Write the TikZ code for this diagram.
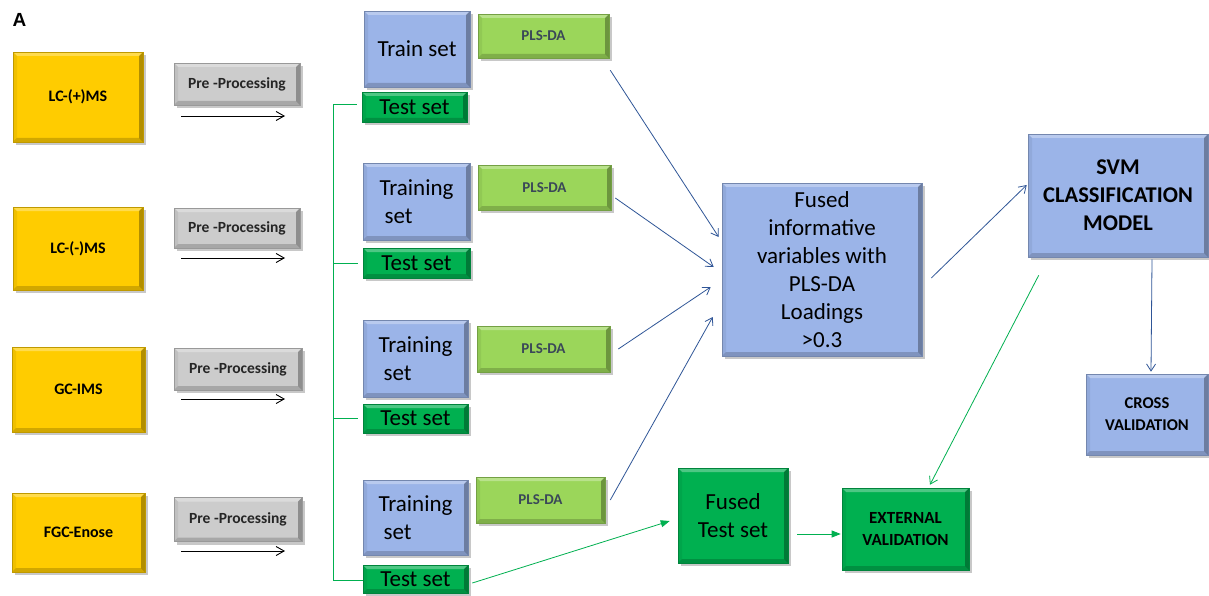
\documentclass[tikz,border=0pt]{standalone}
\usepackage{fontspec}
\setmainfont{Carlito}
\newfontfamily\labelfont{Liberation Sans}
\usetikzlibrary{shadows,arrows.meta,calc}
\definecolor{cYellow}{HTML}{FFCC00}
\definecolor{cGray}{HTML}{CCCCCC}
\definecolor{cBlue}{HTML}{9BB4E8}
\definecolor{cGreen}{HTML}{00B050}
\definecolor{cLight}{HTML}{9BD65A}
\definecolor{cSlate}{HTML}{3A4858}
\definecolor{cLine}{HTML}{2F5597}
\definecolor{cGline}{HTML}{00B050}
\tikzset{
  bevel/.style={path picture={
    \fill[white,opacity=0.3] (path picture bounding box.north west) -- (path picture bounding box.north east) -- ([xshift=-4pt,yshift=-4pt]path picture bounding box.north east) -- ([xshift=4pt,yshift=-4pt]path picture bounding box.north west) -- cycle;
    \fill[black,opacity=0.3] (path picture bounding box.north east) -- (path picture bounding box.south east) -- ([xshift=-4pt,yshift=4pt]path picture bounding box.south east) -- ([xshift=-4pt,yshift=-4pt]path picture bounding box.north east) -- cycle;
    \fill[black,opacity=0.18] (path picture bounding box.south west) -- (path picture bounding box.south east) -- ([xshift=-4pt,yshift=4pt]path picture bounding box.south east) -- ([xshift=4pt,yshift=4pt]path picture bounding box.south west) -- cycle;
    \fill[black,opacity=0.06] (path picture bounding box.north west) -- (path picture bounding box.south west) -- ([xshift=4pt,yshift=4pt]path picture bounding box.south west) -- ([xshift=4pt,yshift=-4pt]path picture bounding box.north west) -- cycle;
  }},
  basebox/.style={rectangle, line width=0.6pt, inner sep=2pt, align=center,
    drop shadow={shadow xshift=3pt,shadow yshift=-3pt,opacity=0.3,fill=black!70}, bevel},
  ybox/.style={basebox, fill=cYellow, draw=cYellow!75!black, font=\bfseries\fontsize{16}{19}\selectfont},
  gbox/.style={basebox, fill=cGray, draw=cGray!75!black, text=black!85, font=\bfseries\fontsize{15.5}{18}\selectfont},
  bbox/.style={basebox, fill=cBlue, draw=cBlue!75!black, font=\fontsize{23}{28}\selectfont},
  bbold/.style={basebox, fill=cBlue, draw=cBlue!75!black, font=\bfseries\fontsize{22.5}{28}\selectfont},
  bsmall/.style={basebox, fill=cBlue, draw=cBlue!75!black, font=\bfseries\fontsize{16.5}{22}\selectfont},
  tbox/.style={basebox, fill=cGreen, draw=cGreen!75!black, font=\fontsize{23}{28}\selectfont},
  tsmall/.style={basebox, fill=cGreen, draw=cGreen!75!black, font=\bfseries\fontsize{17}{22}\selectfont},
  lbox/.style={basebox, fill=cLight, draw=cLight!75!black, text=cSlate, font=\bfseries\fontsize{15}{18}\selectfont},
  blarrow/.style={draw=cLine, line width=0.8pt, -{Straight Barb[length=7pt,width=9pt]}},
  grarrow/.style={draw=cGline, line width=0.8pt, -{Straight Barb[length=7pt,width=9pt]}},
  grfill/.style={draw=cGline, line width=0.8pt, -{Triangle[length=9pt,width=7pt]}},
  kparrow/.style={draw=black, line width=0.9pt, -{Straight Barb[length=8pt,width=9pt]}},
  gline/.style={draw=cGline, line width=0.9pt},
}
\begin{document}
\begin{tikzpicture}[x=1pt,y=-1pt]
\useasboundingbox[fill=white] (0,0) rectangle (1209,596);

\node[font=\labelfont\bfseries\fontsize{19}{22}\selectfont] (lblA) at (19.5,19.5) {A};

% sources
\node[ybox, minimum width=130pt, minimum height=90pt] (lcp) at (78,97) {LC-(+)MS};
\node[ybox, minimum width=130pt, minimum height=83pt] (lcn) at (78,248.5) {LC-(-)MS};
\node[ybox, minimum width=133pt, minimum height=85pt] (gc) at (78.5,389.5) {GC-IMS};
\node[ybox, minimum width=133pt, minimum height=79pt] (fgc) at (78.5,532.5) {FGC-Enose};

% pre-processing
\node[gbox, minimum width=126pt, minimum height=42pt] (pp1) at (237,84) {Pre -Processing};
\node[gbox, minimum width=126pt, minimum height=40pt] (pp2) at (237,228) {Pre -Processing};
\node[gbox, minimum width=128pt, minimum height=42pt] (pp3) at (238,369) {Pre -Processing};
\node[gbox, minimum width=128pt, minimum height=44pt] (pp4) at (238,519.5) {Pre -Processing};

\coordinate (a1s) at (181,116); \coordinate (a1e) at (285,116);
\coordinate (a2s) at (181,258); \coordinate (a2e) at (285,258);
\coordinate (a3s) at (181,399); \coordinate (a3e) at (285,399);
\coordinate (a4s) at (181,551); \coordinate (a4e) at (285,551);
\draw[kparrow] (a1s) -- (a1e);
\draw[kparrow] (a2s) -- (a2e);
\draw[kparrow] (a3s) -- (a3e);
\draw[kparrow] (a4s) -- (a4e);

% train / test sets
\node[bbox, minimum width=106pt, minimum height=76pt] (tr1) at (417,49) {Train set};
\node[tbox, minimum width=105pt, minimum height=30pt] (te1) at (414.5,107) {Test set};
\node[bbox, minimum width=107pt, minimum height=77pt, align=left] (tr2) at (416.5,201.5) {Training\\\hspace*{5pt}set};
\node[tbox, minimum width=107pt, minimum height=30pt] (te2) at (416.5,263) {Test set};
\node[bbox, minimum width=105pt, minimum height=77pt, align=left] (tr3) at (415.5,358.5) {Training\\\hspace*{5pt}set};
\node[tbox, minimum width=105pt, minimum height=29pt] (te3) at (415.5,418.5) {Test set};
\node[bbox, minimum width=105pt, minimum height=75pt, align=left] (tr4) at (415.5,517.5) {Training\\\hspace*{5pt}set};
\node[tbox, minimum width=105pt, minimum height=28pt] (te4) at (415.5,579) {Test set};

% PLS-DA
\node[lbox, minimum width=131pt, minimum height=44pt] (pls1) at (543.5,36) {PLS-DA};
\node[lbox, minimum width=133pt, minimum height=45pt] (pls2) at (544.5,187.5) {PLS-DA};
\node[lbox, minimum width=133pt, minimum height=46pt] (pls3) at (543.5,349) {PLS-DA};
\node[lbox, minimum width=129pt, minimum height=46pt] (pls4) at (540.5,500) {PLS-DA};

% right part
\node[bbox, minimum width=200pt, minimum height=173pt] (fused) at (822,269.5) {Fused\\informative\\variables with\\PLS-DA\\Loadings\\>0.3};
\node[bbold, minimum width=180pt, minimum height=123pt] (svm) at (1118,195.5) {SVM\\CLASSIFICATION\\MODEL};
\node[bsmall, minimum width=122pt, minimum height=81pt] (cross) at (1147,414.5) {CROSS\\VALIDATION};
\node[tbox, minimum width=110pt, minimum height=95pt] (ftest) at (733,515.5) {Fused\\Test set};
\node[tsmall, minimum width=127pt, minimum height=82pt] (ext) at (905.5,529) {EXTERNAL\\VALIDATION};

% green bracket
\coordinate (btop) at (333,104);
\coordinate (bbot) at (333,580);
\draw[gline] ([xshift=-5pt,yshift=3pt]te1.west) -- (btop) -- (bbot) -- (te4.west |- bbot);
\draw[gline] ([xshift=-5pt]te2.west) -- (btop |- te2.west);
\draw[gline] ([xshift=-5pt]te3.west) -- (btop |- te3.west);

% arrows to fused
\draw[blarrow] ($(pls1.south east)+(1,12)$) -- ($(fused.west)+(-3,-32.5)$);
\draw[blarrow] ($(pls2.east)+(4,10.5)$) -- ($(fused.west)+(-8,-2.5)$);
\draw[blarrow] ($(pls3.east)+(8,0)$) -- ($(fused.west)+(-11,17.5)$);
\draw[blarrow] ($(pls4.east)+(5,0)$) -- ($(fused.west)+(-9,47.5)$);
\draw[blarrow] ($(fused.east)+(9,8.5)$) -- ($(svm.west)+(-1,-10.5)$);
\draw[blarrow] ($(svm.south)+(34,2)$) -- ($(cross.north)+(4,-2)$);

\draw[grarrow] ($(svm.south west)+(11,18)$) -- ($(ext.north)+(24.5,-3)$);
\draw[grfill] ($(ftest.east)+(9,18.5)$) -- ($(ext.west)+(-1,5)$);
\draw[grfill] ($(te4.east)+(4,4)$) -- ($(ftest.west)+(-8,5.5)$);
\end{tikzpicture}
\end{document}
